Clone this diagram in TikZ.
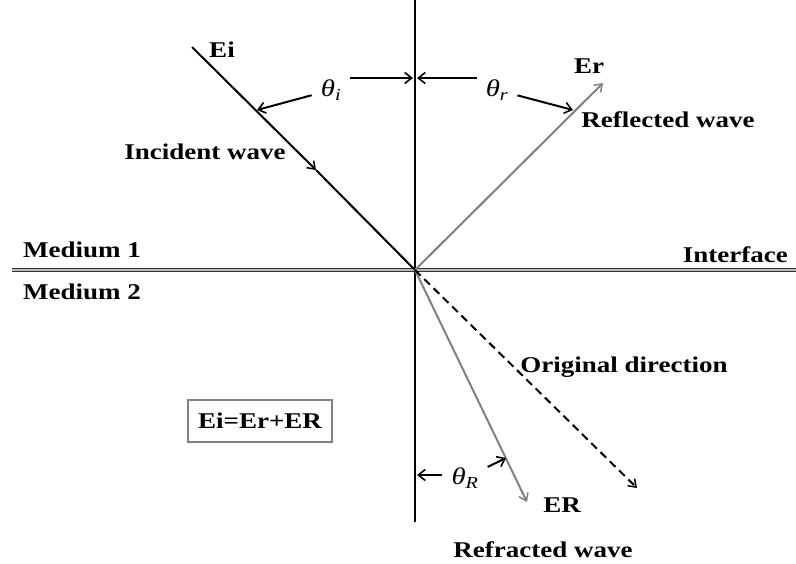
\documentclass[tikz,border=0pt]{standalone}
\usepackage{fontspec}
\setmainfont{Liberation Serif}[FakeStretch=1.2]
\usetikzlibrary{arrows.meta}
\tikzset{
  lbl/.style={font=\bfseries\fontsize{22.5}{26}\selectfont, inner sep=0pt},
  ang/.style={font=\itshape\fontsize{24}{28}\selectfont, inner sep=9pt},
  ray/.style={line width=2pt},
  tip/.style={-{Straight Barb[length=7pt,width=10pt,line width=1.5pt]}},
  small arrow/.style={line width=2pt, -{Straight Barb[length=7pt,width=11pt,line width=1.6pt]}}
}
\begin{document}
\begin{tikzpicture}[x=1pt,y=-1pt]
  \useasboundingbox (0,0) rectangle (796,563);
  % points
  \coordinate (O) at (415,270);
  \coordinate (top) at (415,0);
  \coordinate (bot) at (415,522);
  \coordinate (left) at (12,270);
  \coordinate (right) at (796,270);
  \coordinate (ei) at (192,47);
  \coordinate (imid) at (316,170);
  \coordinate (er) at (603,83);
  \coordinate (eR) at (527,502);
  \coordinate (orig) at (637,488);
  % normal and interface
  \draw[line width=1.3pt, black!80, double=gray!55, double distance=1.8pt] (left) -- (right);
  \draw[line width=2.4pt] (top) -- (bot);
  % rays
  \draw[ray,tip] (ei) -- (imid);
  \draw[ray] (imid) -- (O);
  \draw[ray,gray,tip] (O) -- (er);
  \draw[ray,gray,tip] (O) -- (eR);
  \draw[ray,tip,dash pattern=on 8pt off 5pt] (O) -- (orig);
  % labels
  \node[lbl] (eilbl) at (222,50) {Ei};
  \node[lbl] (erlbl) at (589,66) {Er};
  \node[lbl] (eRlbl) at (562,505) {ER};
  \node[lbl] (inc) at (205,152) {Incident wave};
  \node[lbl] (refl) at (668,120) {Reflected wave};
  \node[lbl] (refr) at (543,550) {Refracted wave};
  \node[lbl] (origlbl) at (624,367) {Original direction};
  \node[lbl,anchor=west] (med1) at (23,250) {Medium 1};
  \node[lbl,anchor=west] (med2) at (23,292) {Medium 2};
  \node[lbl,anchor=east] (iface) at (788,255) {Interface};
  \node[lbl,draw=gray,line width=1.4pt,minimum width=144pt,minimum height=42pt] (sum) at (260,421) {Ei=Er+ER};
  % angles
  \node[ang] (thi) at (331,90) {θ\textsubscript{i}};
  \node[ang] (thr) at (497,90) {θ\textsubscript{r}};
  \node[ang] (thR) at (465,478) {θ\textsubscript{R}};
  \coordinate (ni) at (413,78);
  \coordinate (nr) at (417,78);
  \coordinate (nR) at (417,475);
  \coordinate (ai) at (257,110);
  \coordinate (ar) at (573,110);
  \coordinate (aR) at (506,458);
  \draw[small arrow] (thi) -- (ai);
  \draw[small arrow] (thi.east |- ni) -- (ni);
  \draw[small arrow] (thr) -- (ar);
  \draw[small arrow] (thr.west |- nr) -- (nr);
  \draw[small arrow] (thR) -- (aR);
  \draw[small arrow] (thR.west |- nR) -- (nR);
\end{tikzpicture}
\end{document}
